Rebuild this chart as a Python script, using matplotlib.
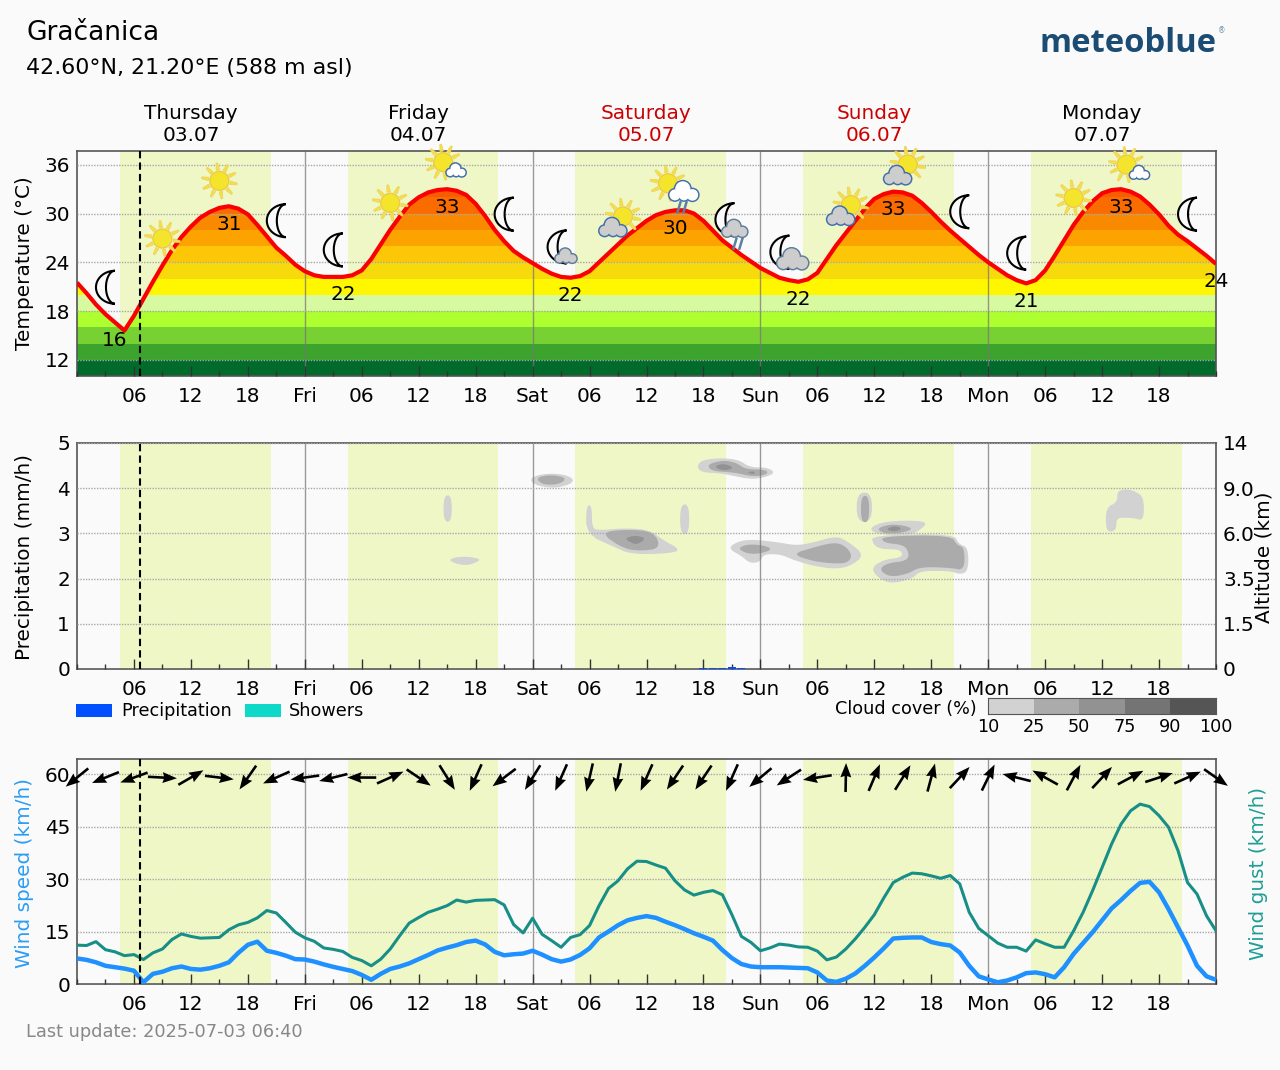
import numpy as np
import matplotlib
matplotlib.use("Agg")
import matplotlib.pyplot as plt
from matplotlib.colors import ListedColormap
from matplotlib.patches import Circle, Polygon, Rectangle
from matplotlib.ticker import FixedLocator, MultipleLocator

W, H = 1280, 1070

hours = np.arange(121)

temperature = [
    21.5, 20.2, 18.8, 17.6, 16.6, 15.6, 17.4, 19.5, 21.6, 23.6, 25.5, 27.1,
    28.4, 29.5, 30.2, 30.7, 30.9, 30.6, 29.9, 28.6, 27.2, 25.8, 24.8, 23.7,
    22.9, 22.4, 22.2, 22.2, 22.2, 22.4, 23.0, 24.4, 26.2, 28.0, 29.6, 31.1,
    32.0, 32.6, 32.9, 33.0, 32.8, 32.3, 31.2, 29.7, 28.0, 26.6, 25.4, 24.6,
    23.9, 23.2, 22.6, 22.2, 22.1, 22.3, 22.9, 24.0, 25.1, 26.2, 27.3, 28.2,
    29.1, 29.8, 30.2, 30.4, 30.4, 30.0, 29.1, 27.9, 26.7, 25.8, 24.9, 24.1,
    23.3, 22.7, 22.1, 21.8, 21.6, 21.9, 22.7, 24.4, 26.1, 27.6, 29.1, 30.6,
    31.8, 32.4, 32.7, 32.6, 32.2, 31.3, 30.2, 29.0, 27.9, 26.9, 25.9, 24.9,
    24.0, 23.2, 22.4, 21.8, 21.4, 21.8, 23.0, 24.8, 26.7, 28.6, 30.2, 31.5,
    32.5, 32.9, 33.0, 32.7, 32.1, 31.1, 29.9, 28.5, 27.4, 26.6, 25.7, 24.8,
    23.8,
]

wind_speed = [
    7.3, 6.9, 6.2, 5.2, 4.8, 4.4, 3.8, 0.5, 2.9, 3.5, 4.5, 5.0,
    4.3, 4.1, 4.5, 5.2, 6.2, 8.9, 11.2, 12.1, 9.5, 8.9, 8.1, 7.1,
    7.0, 6.4, 5.6, 4.9, 4.3, 3.7, 2.6, 1.2, 2.9, 4.3, 5.0, 5.9,
    7.1, 8.3, 9.6, 10.4, 11.1, 12.0, 12.4, 11.3, 9.2, 8.2, 8.5, 8.7,
    9.5, 8.4, 7.1, 6.4, 7.0, 8.3, 10.2, 13.3, 15.0, 16.8, 18.2, 18.9,
    19.4, 18.9, 17.8, 16.8, 15.7, 14.5, 13.5, 12.4, 9.7, 7.4, 5.7, 5.0,
    4.8, 4.8, 4.8, 4.7, 4.6, 4.5, 3.3, 1.0, 0.6, 1.5, 3.0, 5.2,
    7.6, 10.2, 13.0, 13.2, 13.3, 13.3, 12.0, 11.4, 11.0, 9.0, 5.2, 2.2,
    1.3, 0.5, 1.0, 1.9, 3.1, 3.3, 2.8, 1.9, 4.8, 8.6, 11.7, 14.8,
    18.2, 21.6, 24.0, 26.6, 28.9, 29.2, 26.2, 21.4, 16.2, 11.0, 5.2, 2.2,
    1.2,
]

wind_gust = [
    11.1, 11.0, 12.1, 9.8, 9.2, 8.1, 8.4, 7.0, 8.9, 10.0, 12.7, 14.3,
    13.6, 13.1, 13.2, 13.3, 15.5, 16.9, 17.6, 18.9, 21.0, 20.3, 17.6, 14.8,
    13.2, 12.2, 10.3, 9.9, 9.3, 7.6, 6.7, 5.2, 7.1, 10.0, 13.8, 17.4,
    19.0, 20.5, 21.4, 22.4, 24.0, 23.4, 23.9, 24.0, 24.1, 22.6, 17.0, 14.6,
    18.8, 14.2, 12.4, 10.5, 13.3, 14.1, 16.7, 22.4, 27.3, 29.5, 32.9, 35.1,
    35.0, 34.0, 33.1, 29.5, 26.9, 25.4, 26.2, 26.7, 25.5, 19.8, 13.6, 11.9,
    9.5, 10.3, 11.4, 11.1, 10.6, 10.5, 9.4, 6.9, 7.7, 10.0, 12.9, 16.2,
    19.8, 24.6, 29.0, 30.5, 31.7, 31.5, 30.9, 30.2, 31.0, 28.6, 20.5, 15.9,
    13.8, 11.7, 10.5, 10.5, 9.4, 12.6, 11.5, 10.5, 10.5, 15.2, 20.5, 26.7,
    33.3, 40.0, 45.7, 49.5, 51.4, 50.7, 48.1, 44.8, 38.1, 29.0, 25.7, 19.5,
    15.2,
]

# heading of the wind arrows in degrees, one every three hours
arrow_hours = np.arange(0, 121, 3)
arrow_angles = [
    219, 202, 200, -3, 30, -7, 235, 204, 188, 194, 180, 24, -34, -58,
    246, 217, 238, 246, 257, 259, 246, 236, 236, 246, 220, 213, 189,
    89, 67, 58, 75, 47, 64, 166, 151, 62, 47, 28, 18, 24, -35,
]

precip_hours = [66, 67, 68, 69, 70]
precip_values = [0.02, 0.03, 0.03, 0.05, 0.03]

sunrise = [4.5, 28.5, 52.5, 76.5, 100.5]
sunset = [20.4, 44.4, 68.4, 92.4, 116.4]
now_hour = 6.67

day_names = ["Thursday", "Friday", "Saturday", "Sunday", "Monday"]
day_dates = ["03.07", "04.07", "05.07", "06.07", "07.07"]
day_colors = ["black", "black", "#cc0000", "#cc0000", "black"]

label_hours = [4, 16, 28, 39, 52, 63, 76, 86, 100, 110, 120]
label_values = [16, 31, 22, 33, 22, 30, 22, 33, 21, 33, 24]

band_edges = [10, 12, 14, 16, 18, 20, 22, 24, 26, 28, 30, 32, 38]
band_colors = ["#006b2a", "#3ca32c", "#78d132", "#aeff2f", "#d7f99f", "#fff700",
               "#f6da0c", "#fdc708", "#fca300", "#f98a00", "#fa6c00", "#fa5a00"]

icon_hours = list(range(3, 118, 6))
icon_kinds = ["moon", "sun", "sun", "moon", "moon", "sun", "sun_small", "moon",
              "moon_small", "sun_grey", "sun_rain", "moon_rain", "moon_grey",
              "sun_grey", "sun_grey", "moon", "moon", "sun", "sun_small", "moon"]

# cloud layers as (hour, panel height) outlines, one list per cover class
clouds_light = [
    [(38.62, 3.26), (38.62, 3.84), (39.48, 3.84), (39.48, 3.26)],
    [(39.2, 2.41), (39.8, 2.47), (41.1, 2.49), (42.6, 2.43), (41.9, 2.34), (40.9, 2.29), (39.8, 2.34)],
    [(47.7, 4.18), (48.3, 4.28), (49.9, 4.33), (51.6, 4.29), (52.4, 4.18), (51.8, 4.07), (50.2, 4.0), (48.4, 4.06)],
    [(53.65, 3.62), (54.25, 3.62), (54.25, 3.11), (55.1, 3.07), (57.9, 3.12), (60.4, 3.07), (61.6, 2.87),
     (63.7, 2.63), (62.1, 2.55), (58.3, 2.54), (56.5, 2.71), (53.65, 2.98)],
    [(63.55, 3.64), (64.5, 3.64), (64.5, 2.99), (63.55, 2.99)],
    [(65.3, 4.48), (65.8, 4.62), (67.8, 4.67), (69.7, 4.63), (70.9, 4.46), (72.7, 4.46), (73.6, 4.34),
     (72.3, 4.23), (70.9, 4.20), (69.2, 4.27), (67.8, 4.33), (65.8, 4.35)],
    [(68.6, 2.67), (69.5, 2.81), (70.9, 2.87), (73.7, 2.81), (75.8, 2.73), (77.6, 2.80), (79.9, 2.94),
     (81.1, 2.84), (83.0, 2.52), (81.5, 2.28), (79.9, 2.21), (77.6, 2.28), (75.5, 2.41), (74.1, 2.54),
     (72.3, 2.54), (72.0, 2.37), (70.9, 2.34), (70.0, 2.50)],
    [(82.15, 3.26), (82.15, 3.9), (83.75, 3.9), (83.75, 3.26)],
    [(83.4, 3.09), (84.6, 3.24), (87.1, 3.29), (89.7, 3.26), (88.8, 3.07), (87.8, 2.97), (84.6, 2.97)],
    [(83.8, 2.96), (92.4, 2.99), (92.9, 2.76), (93.9, 2.69), (93.9, 2.17), (93.05, 2.09), (92.0, 2.17),
     (88.8, 2.17), (88.1, 2.01), (86.0, 1.89), (84.6, 1.98), (83.6, 2.23), (85.0, 2.42), (87.0, 2.47),
     (86.8, 2.65), (84.6, 2.65), (83.8, 2.78)],
    [(108.4, 3.57), (109.6, 3.69), (109.6, 3.94), (110.6, 3.98), (111.5, 3.93), (112.4, 3.80), (112.4, 3.28),
     (111.3, 3.34), (109.9, 3.35), (109.5, 3.30), (109.5, 3.09), (108.9, 3.03), (108.4, 3.09)],
]
clouds_mid = [
    [(48.3, 4.23), (49.9, 4.30), (51.6, 4.23), (50.9, 4.09), (49.1, 4.07)],
    [(55.1, 3.02), (57.9, 3.09), (60.8, 3.04), (61.5, 2.67), (59.3, 2.61), (57.5, 2.67)],
    [(66.4, 4.53), (68.1, 4.62), (69.5, 4.56), (70.4, 4.42), (72.6, 4.41), (72.8, 4.31), (71.3, 4.25),
     (69.2, 4.35), (66.8, 4.38)],
    [(69.6, 2.67), (70.6, 2.76), (72.3, 2.74), (73.3, 2.65), (72.0, 2.55), (70.6, 2.55)],
    [(75.3, 2.54), (77.6, 2.69), (79.7, 2.80), (80.85, 2.74), (81.7, 2.52), (81.2, 2.35), (79.9, 2.33), (77.6, 2.38)],
    [(82.6, 3.25), (82.6, 3.83), (83.45, 3.83), (83.45, 3.25)],
    [(84.2, 3.11), (86.0, 3.22), (88.3, 3.11), (86.7, 3.00), (85.0, 3.00)],
    [(84.7, 2.94), (92.1, 2.96), (92.7, 2.74), (93.5, 2.69), (93.5, 2.18), (92.0, 2.24), (88.8, 2.26),
     (87.6, 2.11), (85.7, 2.03), (84.5, 2.19), (85.3, 2.34), (87.4, 2.39), (87.7, 2.56), (87.1, 2.75), (85.0, 2.79)],
]
clouds_dark = [
    [(57.7, 2.89), (58.8, 2.96), (60.0, 2.89), (59.0, 2.75), (58.3, 2.80)],
    [(67.1, 4.48), (68.1, 4.55), (69.3, 4.45), (68.1, 4.38)],
    [(70.5, 4.35), (71.4, 4.38), (71.4, 4.30)],
    [(85.2, 3.10), (86.2, 3.17), (87.0, 3.10), (86.0, 3.03)],
]

cloud_classes = ["10", "25", "50", "75", "90", "100"]
cloud_colors = ["#d2d2d2", "#ababab", "#929292", "#747474", "#555555"]

x_labels = []
for name in ["Fri", "Sat", "Sun", "Mon"]:
    x_labels += ["06", "12", "18", name]
x_labels += ["06", "12", "18"]

TEXT = 14.4
SMALL = 12.7
BG = "#fafafa"
plt.rcParams["font.family"] = "DejaVu Sans"
plt.rcParams["font.size"] = TEXT

fig = plt.figure(figsize=(W / 100, H / 100), dpi=100, facecolor=BG)


def panel(top, bottom):
    ax = fig.add_axes([77 / W, 1 - bottom / H, (1216 - 77) / W, (bottom - top) / H], facecolor=BG)
    ax.set_xlim(0, 120)
    for start, end in zip(sunrise, sunset):
        ax.axvspan(start, end, color="#f0f7c6", lw=0, zorder=0)
    ax.vlines([24, 48, 72, 96], 0, 1, transform=ax.get_xaxis_transform(),
              color="#777777", lw=1, alpha=0.75, zorder=2.4)
    ax.axvline(now_hour, color="black", lw=1.5, ls=(0, (3.5, 2)), zorder=4)
    ax.xaxis.set_major_locator(FixedLocator(np.arange(6, 120, 6)))
    ax.xaxis.set_minor_locator(MultipleLocator(3))
    ax.set_xticklabels(x_labels)
    ax.tick_params(axis="x", which="major", direction="in", length=7.5, width=1, color="#333333", pad=8)
    ax.tick_params(axis="x", which="minor", direction="in", length=3.8, width=1, color="#333333")
    ax.tick_params(axis="y", length=0, pad=5)
    ax.grid(axis="y", color="#a8a8a8", lw=1, ls=(0, (1, 1)))
    ax.set_axisbelow(False)
    for spine in ax.spines.values():
        spine.set_color("#555555")
        spine.set_linewidth(1.2)
    return ax


def rounded(shape, passes=2):
    # corner cutting so the cloud outlines read as soft contours
    pts = np.asarray(shape, dtype=float)
    for _ in range(passes):
        nxt = np.roll(pts, -1, axis=0)
        pts = np.c_[0.75 * pts + 0.25 * nxt, 0.25 * pts + 0.75 * nxt].reshape(-1, 2)
    return pts


# temperature panel with colour bands clipped under the curve
ax_t = panel(151, 376)
ax_t.set_ylim(10, 37.7)
ax_t.set_yticks(range(12, 37, 6))
under = ax_t.fill_between(hours, 10, temperature, color="none", lw=0)
clip = under.get_paths()[0]
for low, high, col in zip(band_edges[:-1], band_edges[1:], band_colors):
    band = ax_t.axhspan(low, high, color=col, lw=0, zorder=1)
    band.set_clip_path(clip, ax_t.transData)
ax_t.plot(hours, temperature, color="#fb0000", lw=3, zorder=3, solid_capstyle="butt")
for hour, value in zip(label_hours, label_values):
    ax_t.annotate(str(value), (hour, temperature[hour]), xytext=(0, -13), textcoords="offset points",
                  ha="center", va="center", fontsize=TEXT, zorder=6, annotation_clip=False)
for i, (name, date, col) in enumerate(zip(day_names, day_dates, day_colors)):
    ax_t.text(12 + 24 * i, 1.027, name + "\n" + date, color=col, ha="center", va="bottom",
              transform=ax_t.get_xaxis_transform(), fontsize=TEXT, linespacing=1.2)

# precipitation and cloud panel
ax_p = panel(443, 669)
ax_p.set_ylim(0, 5)
ax_p.set_yticks(range(0, 6))
for shapes, col in zip([clouds_light, clouds_mid, clouds_dark], cloud_colors):
    for shape in shapes:
        ax_p.add_patch(Polygon(rounded(shape), closed=True, fc=col, ec="none", zorder=1.5))
ax_p.bar(precip_hours, precip_values, width=0.85, color="#0050ff", zorder=3)
ax_alt = ax_p.twinx()
ax_alt.set_ylim(0, 5)
ax_alt.set_yticks(range(0, 6))
ax_alt.set_yticklabels(["0", "1.5", "3.5", "6.0", "9.0", "14"])
ax_alt.tick_params(axis="y", length=0, pad=5)
for spine in ax_alt.spines.values():
    spine.set_visible(False)

# wind panel
ax_w = panel(759, 984)
ax_w.set_ylim(0, 64.3)
ax_w.set_yticks(range(0, 61, 15))
ax_w.plot(hours, wind_gust, color="#178e86", lw=2.2, zorder=3)
ax_w.plot(hours, wind_speed, color="#1e90ff", lw=3.2, zorder=3.1)
angle = np.radians(arrow_angles)
ax_w.quiver(arrow_hours, np.full(len(arrow_hours), 59.0), 29 * np.cos(angle), 29 * np.sin(angle),
            angles="uv", scale_units="dots", scale=1, units="dots", width=2.6, headwidth=4.2,
            headlength=5.5, headaxislength=5, pivot="mid", color="black", zorder=5, clip_on=False)

# overlay in figure pixels for titles, legends and weather icons
over = fig.add_axes([0, 0, 1, 1], zorder=10)
over.set_xlim(0, W)
over.set_ylim(H, 0)
over.axis("off")


def sun(x, y):
    for a in np.radians(np.arange(0, 360, 36) + 10):
        c, s = np.cos(a), np.sin(a)
        n = np.array([-s, c]) * 1.7
        base = np.array([x + 11 * c, y + 11 * s])
        tip = np.array([x + 18 * c, y + 18 * s])
        over.add_patch(Polygon([base - n, tip - n * 0.5, tip + n * 0.5, base + n],
                               fc="#f6e23a", ec="#ecd264", lw=0.6))
    over.add_patch(Circle((x, y), 9.5, fc="#f4e42c", ec="#eccb45", lw=1))


def moon(x, y):
    t = np.linspace(-np.pi / 2, np.pi / 2, 40)
    outer = np.c_[x + 9.5 - 19 * np.cos(t), y + 16.5 * np.sin(t)]
    inner = np.c_[x + 9.5 - 9 * np.cos(t), y + 16.5 * np.sin(t)]
    over.add_patch(Polygon(np.r_[outer, inner[::-1]], fc=BG, ec="black", lw=1.5))


def cloud(x, y, w, fill, edge):
    bumps = [(-0.30, 0.12, 0.20), (-0.04, -0.08, 0.27), (0.28, 0.12, 0.21), (0.0, 0.14, 0.18)]
    for dx, dy, r in bumps:
        over.add_patch(Circle((x + dx * w, y + dy * w), r * w, fc=edge, ec=edge, lw=1.4))
    for dx, dy, r in bumps:
        over.add_patch(Circle((x + dx * w, y + dy * w), r * w - 0.5, fc=fill, ec="none"))


def rain(x, y):
    for dx in (-3, 3):
        over.plot([x + dx + 1.5, x + dx - 1.5], [y - 5, y + 5], color="#5a7fa8", lw=1.8)


CLOUD_EDGE = "#3f6fae"
GREY_EDGE = "#5f7c9c"
CLOUD_GREY = "#cdcdcd"
for hour, kind in zip(icon_hours, icon_kinds):
    px, py = ax_t.transData.transform((hour, temperature[hour]))
    py = H - py - 27
    if kind == "sun":
        sun(px, py)
    elif kind == "moon":
        moon(px, py)
    elif kind == "sun_small":
        sun(px - 4, py)
        cloud(px + 9, py + 8, 20, "white", CLOUD_EDGE)
    elif kind == "moon_small":
        moon(px - 4, py - 3)
        cloud(px + 5, py + 6, 22, CLOUD_GREY, GREY_EDGE)
    elif kind == "sun_grey":
        sun(px + 5, py - 1)
        cloud(px - 5, py + 10, 28, CLOUD_GREY, CLOUD_EDGE)
    elif kind == "sun_rain":
        sun(px - 7, py)
        rain(px + 7, py + 24)
        cloud(px + 9, py + 8, 30, "white", CLOUD_EDGE)
    elif kind == "moon_rain":
        moon(px - 7, py - 1)
        rain(px + 6, py + 23)
        cloud(px + 3, py + 8, 26, CLOUD_GREY, GREY_EDGE)
    elif kind == "moon_grey":
        moon(px - 9, py - 1)
        cloud(px + 4, py + 6, 32, CLOUD_GREY, GREY_EDGE)

over.text(26, 33, "Gračanica", fontsize=19, va="center")
over.text(26, 68, "42.60°N, 21.20°E (588 m asl)", fontsize=15.95, va="center")
over.text(1039, 52, "meteoblue", fontsize=23.6, fontfamily="Open Sans", fontweight="bold",
          color="#1b4c73", va="baseline")
over.text(1222, 31, "®", fontsize=5.5, color="#6f93ad", ha="center", va="center")
over.text(26, 1032, "Last update: 2025-07-03 06:40", fontsize=12.75, color="#888888", va="center")

over.text(25, 263, "Temperature (°C)", rotation=90, ha="center", va="center", fontsize=TEXT)
over.text(25, 557, "Precipitation (mm/h)", rotation=90, ha="center", va="center", fontsize=TEXT)
over.text(1264, 557, "Altitude (km)", rotation=90, ha="center", va="center", fontsize=TEXT)
over.text(25, 873, "Wind speed (km/h)", rotation=90, ha="center", va="center", fontsize=TEXT, color="#2a9df4")
over.text(1258, 873, "Wind gust (km/h)", rotation=90, ha="center", va="center", fontsize=TEXT, color="#1f9e96")

over.add_patch(Rectangle((76, 704), 36, 13, fc="#0050ff", ec="none"))
over.text(121, 711, "Precipitation", fontsize=SMALL, va="center")
over.add_patch(Rectangle((245, 704), 36, 13, fc="#0ed8c8", ec="none"))
over.text(289, 711, "Showers", fontsize=SMALL, va="center")
over.text(977, 709, "Cloud cover (%)", fontsize=SMALL, ha="right", va="center")

# cloud cover colour key
cax = fig.add_axes([988 / W, 1 - 714 / H, (1216 - 988) / W, 16 / H])
cax.pcolormesh([[0, 1, 2, 3, 4]], cmap=ListedColormap(cloud_colors))
cax.set_yticks([])
cax.set_xticks(range(6))
cax.set_xticklabels(cloud_classes, fontsize=SMALL)
cax.tick_params(axis="x", length=0, pad=3)
for spine in cax.spines.values():
    spine.set_color("#555555")

fig.savefig("out.png", dpi=100, facecolor=BG)
